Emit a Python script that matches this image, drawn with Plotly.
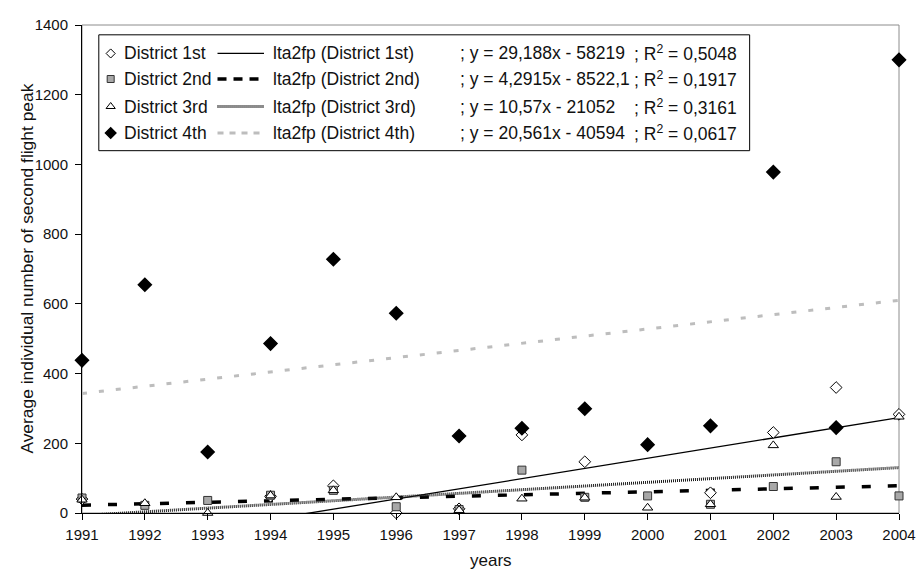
import plotly.graph_objects as go

# ---------------- data ----------------
years = list(range(1991, 2005))
district_1st = [40, None, None, 48, 78, 0, 12, 224, 147, None, 58, 231, 360, 283]
district_2nd = [43, 22, 36, 51, 65, 18, 10, 123, 45, 49, 25, 76, 147, 49]
district_3rd = [38, 28, 0, 50, 65, 45, 8, 41, 44, 15, 25, 194, 46, 276]
district_4th = [438, 655, 175, 486, 728, 573, 221, 243, 299, 196, 250, 978, 245, 1300]

series_names = ["District 1st", "District 2nd", "District 3rd", "District 4th"]
trend_names = ["lta2fp (District 1st)", "lta2fp (District 2nd)",
               "lta2fp (District 3rd)", "lta2fp (District 4th)"]
trend_slopes = [29.188, 4.2915, 10.57, 20.561]
trend_intercepts = [-58219, -8522.1, -21052, -40594]
equation_labels = ["; y = 29,188x - 58219", "; y = 4,2915x - 8522,1",
                   "; y = 10,57x - 21052", "; y = 20,561x - 40594"]
r2_labels = ["0,5048", "0,1917", "0,3161", "0,0617"]
y_tick_values = [0, 200, 400, 600, 800, 1000, 1200, 1400]
x_tick_values = years

FONT = "Liberation Sans, Arial, sans-serif"
TXT = "#111111"

# page body has an 8px margin: figure drawn 8px in from the window corner
OFF = 8
W, H = 924, 571

# ---------------- styles ----------------
marker_styles = [
    dict(symbol="diamond", size=9, color="white", line=dict(color="black", width=1)),
    dict(symbol="square", size=8, color="#a8a8a8", line=dict(color="#333333", width=1)),
    dict(symbol="triangle-up", size=9, color="white", line=dict(color="black", width=1)),
    dict(symbol="diamond", size=10, color="black", line=dict(color="black", width=1.5)),
]
trend_styles = [
    dict(color="black", width=1.3),
    dict(color="black", width=3.5, dash="9px,17px"),
    dict(color="#1a1a1a", width=3, dash="1px,1px"),
    dict(color="#bdbdbd", width=3, dash="5px,12px"),
]
legend_line_styles = [
    dict(color="black", width=1.3),
    dict(color="black", width=3.5, dash="9px,7px"),
    dict(color="#1a1a1a", width=3, dash="1px,1px"),
    dict(color="#bdbdbd", width=3, dash="6px,6px"),
]

fig = go.Figure()
all_data = [district_1st, district_2nd, district_3rd, district_4th]

# trend lines (from the printed equations)
for i in range(4):
    xs = [years[0], years[-1]]
    ys = [trend_slopes[i] * x + trend_intercepts[i] for x in xs]
    fig.add_trace(go.Scatter(x=xs, y=ys, mode="lines", line=trend_styles[i],
                             showlegend=False, hoverinfo="skip"))

# data markers
for i in [0, 1, 2, 3]:
    fig.add_trace(go.Scatter(x=years, y=all_data[i], mode="markers",
                             marker=marker_styles[i], name=series_names[i],
                             cliponaxis=False, showlegend=False))

# ---------------- custom legend (overlay axes in window pixels) ----------------
L, R, T, B = 82, 908, 16, 513
row_y = [45, 71, 99, 126]
marker_x = 111
name_x = 122
line_x0, line_x1 = 219, 266
trend_x = 273
eq_x = 462
r2_x = 638
LEG_SIZE = 17.5

legend_marker_sizes = [7, 7, 8, 8]
for i in range(4):
    ms = dict(marker_styles[i])
    ms["size"] = legend_marker_sizes[i]
    fig.add_trace(go.Scatter(x=[marker_x], y=[row_y[i]], xaxis="x2", yaxis="y2",
                             mode="markers", marker=ms, showlegend=False,
                             hoverinfo="skip", cliponaxis=False))
    fig.add_trace(go.Scatter(x=[line_x0, line_x1], y=[row_y[i], row_y[i]],
                             xaxis="x2", yaxis="y2", mode="lines",
                             line=legend_line_styles[i], showlegend=False,
                             hoverinfo="skip"))

annotations = []
for i in range(4):
    for xpos, txt in [(name_x, series_names[i]), (trend_x, trend_names[i]),
                      (eq_x, equation_labels[i]),
                      (r2_x, "; R<sup>2</sup> = " + r2_labels[i])]:
        annotations.append(dict(x=xpos, y=row_y[i], xref="x2", yref="y2",
                                text=txt, showarrow=False, xanchor="left",
                                yanchor="middle",
                                font=dict(family=FONT, size=LEG_SIZE, color=TXT)))

# axis titles
annotations.append(dict(x=0.5, y=(B - 561) / (B - T), xref="paper", yref="paper",
                        text="years", showarrow=False, xanchor="center",
                        yanchor="middle", font=dict(family=FONT, size=17, color=TXT)))
annotations.append(dict(x=(26 - L) / (R - L), y=0.5, xref="paper", yref="paper",
                        text="Average individual number of second flight peak",
                        textangle=-90, showarrow=False, xanchor="center",
                        yanchor="middle", font=dict(family=FONT, size=17.4, color=TXT)))

shapes = [
    dict(type="rect", xref="paper", yref="paper", x0=0, x1=1, y0=0, y1=1,
         line=dict(color="#8c8c8c", width=1), layer="below"),
    dict(type="rect", xref="x2", yref="y2", x0=99, x1=757, y0=26, y1=144,
         line=dict(color="black", width=1), fillcolor="white", layer="below"),
]

fig.update_layout(
    width=W - OFF, height=H - OFF, autosize=False,
    margin=dict(l=L - OFF, r=W - R, t=T - OFF, b=H - B, pad=0),
    paper_bgcolor="white", plot_bgcolor="white",
    font=dict(family=FONT, size=15, color=TXT),
    showlegend=False,
    xaxis=dict(range=[1991, 2004], tickmode="array", tickvals=x_tick_values,
               showgrid=False, zeroline=False, showline=True, linecolor="black",
               linewidth=1, ticks="outside", ticklen=6, tickcolor="black",
               ticklabeloverflow="allow", ticklabelstandoff=2,
               tickfont=dict(family=FONT, size=15, color=TXT)),
    yaxis=dict(range=[0, 1400], tickmode="array", tickvals=y_tick_values,
               showgrid=False, zeroline=False, showline=True, linecolor="black",
               linewidth=1, ticks="outside", ticklen=6, tickcolor="black",
               ticklabeloverflow="allow", ticklabelstandoff=4,
               tickfont=dict(family=FONT, size=15, color=TXT)),
    xaxis2=dict(range=[L, R], overlaying="x", visible=False, fixedrange=True),
    yaxis2=dict(range=[B, T], overlaying="y", visible=False, fixedrange=True),
    annotations=annotations,
    shapes=shapes,
)

fig.write_html("out.html")
